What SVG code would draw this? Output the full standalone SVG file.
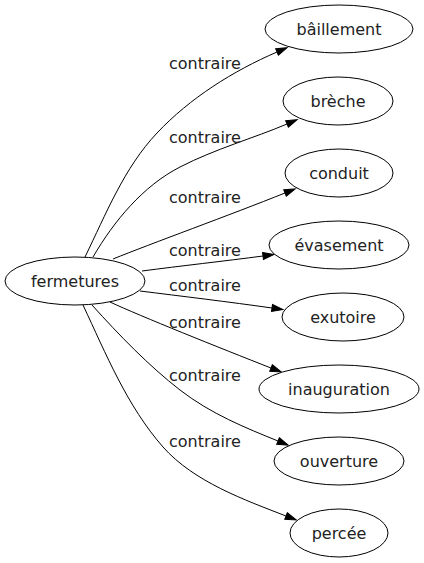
<svg xmlns="http://www.w3.org/2000/svg" width="424" height="563" viewBox="0 0 424 563">
<style>
.n ellipse{fill:#fff;stroke:#000;stroke-width:1}
text{font-family:"DejaVu Sans",sans-serif;font-size:16px;fill:#222}
.n text{text-anchor:middle}
.l{text-anchor:start}
.e path{fill:none;stroke:#000;stroke-width:1;marker-end:url(#a)}
</style>
<defs>
<marker id="a" markerUnits="userSpaceOnUse" markerWidth="12" markerHeight="10" refX="0" refY="4" orient="auto" viewBox="0 0 12 8" overflow="visible">
<path d="M0,0.5 L11,4 L0,7.5 z" fill="#000" stroke="#000" stroke-width="1"/>
</marker>
</defs>
<rect width="424" height="563" fill="#fff"/>
<g id="connectors" class="e">
<path d="M85,257 C106,214 124,168 157,133 C190,98 233,71 277,52"/>
<path d="M93,257 C114,221 143,186 180,167 C215,149 254,138 287,124"/>
<path d="M113,259 C150,244 230,215 285,193"/>
<path d="M142,271 C180,266 225,261 263,256"/>
<path d="M140,291 C180,296 230,302 272,308"/>
<path d="M110,302 C140,316 220,348 271,368"/>
<path d="M92,305 C119,335 149,366 180,390 C211,414 246,428 278,441"/>
<path d="M83,305 C106,354 127,406 163,447 C194,482 245,500 286,516"/>
</g>
<g class="l-group">
<text class="l" x="169" y="69">contraire</text>
<text class="l" x="169" y="143">contraire</text>
<text class="l" x="169" y="203">contraire</text>
<text class="l" x="169" y="255.5">contraire</text>
<text class="l" x="169" y="291">contraire</text>
<text class="l" x="169" y="327.5">contraire</text>
<text class="l" x="169" y="380.5">contraire</text>
<text class="l" x="169" y="447">contraire</text>
</g>
<g id="fermetures" class="n"><ellipse cx="75" cy="281" rx="70" ry="24"/><text x="75" y="286.5">fermetures</text></g>
<g id="baillement" class="n"><ellipse cx="339" cy="29" rx="74" ry="24"/><text x="339" y="34.5">bâillement</text></g>
<g id="breche" class="n"><ellipse cx="338" cy="101" rx="55" ry="24"/><text x="338" y="106.5">brèche</text></g>
<g id="conduit" class="n"><ellipse cx="339" cy="173" rx="54" ry="24"/><text x="339" y="178.5">conduit</text></g>
<g id="evasement" class="n"><ellipse cx="339" cy="245" rx="70" ry="24"/><text x="339" y="250.5">évasement</text></g>
<g id="exutoire" class="n"><ellipse cx="343" cy="317" rx="61" ry="24"/><text x="343" y="322.5">exutoire</text></g>
<g id="inauguration" class="n"><ellipse cx="339" cy="389" rx="80" ry="24"/><text x="339" y="394.5">inauguration</text></g>
<g id="ouverture" class="n"><ellipse cx="339" cy="461" rx="65" ry="24"/><text x="339" y="466.5">ouverture</text></g>
<g id="percee" class="n"><ellipse cx="339" cy="533" rx="49" ry="24"/><text x="339" y="538.5">percée</text></g>
</svg>
